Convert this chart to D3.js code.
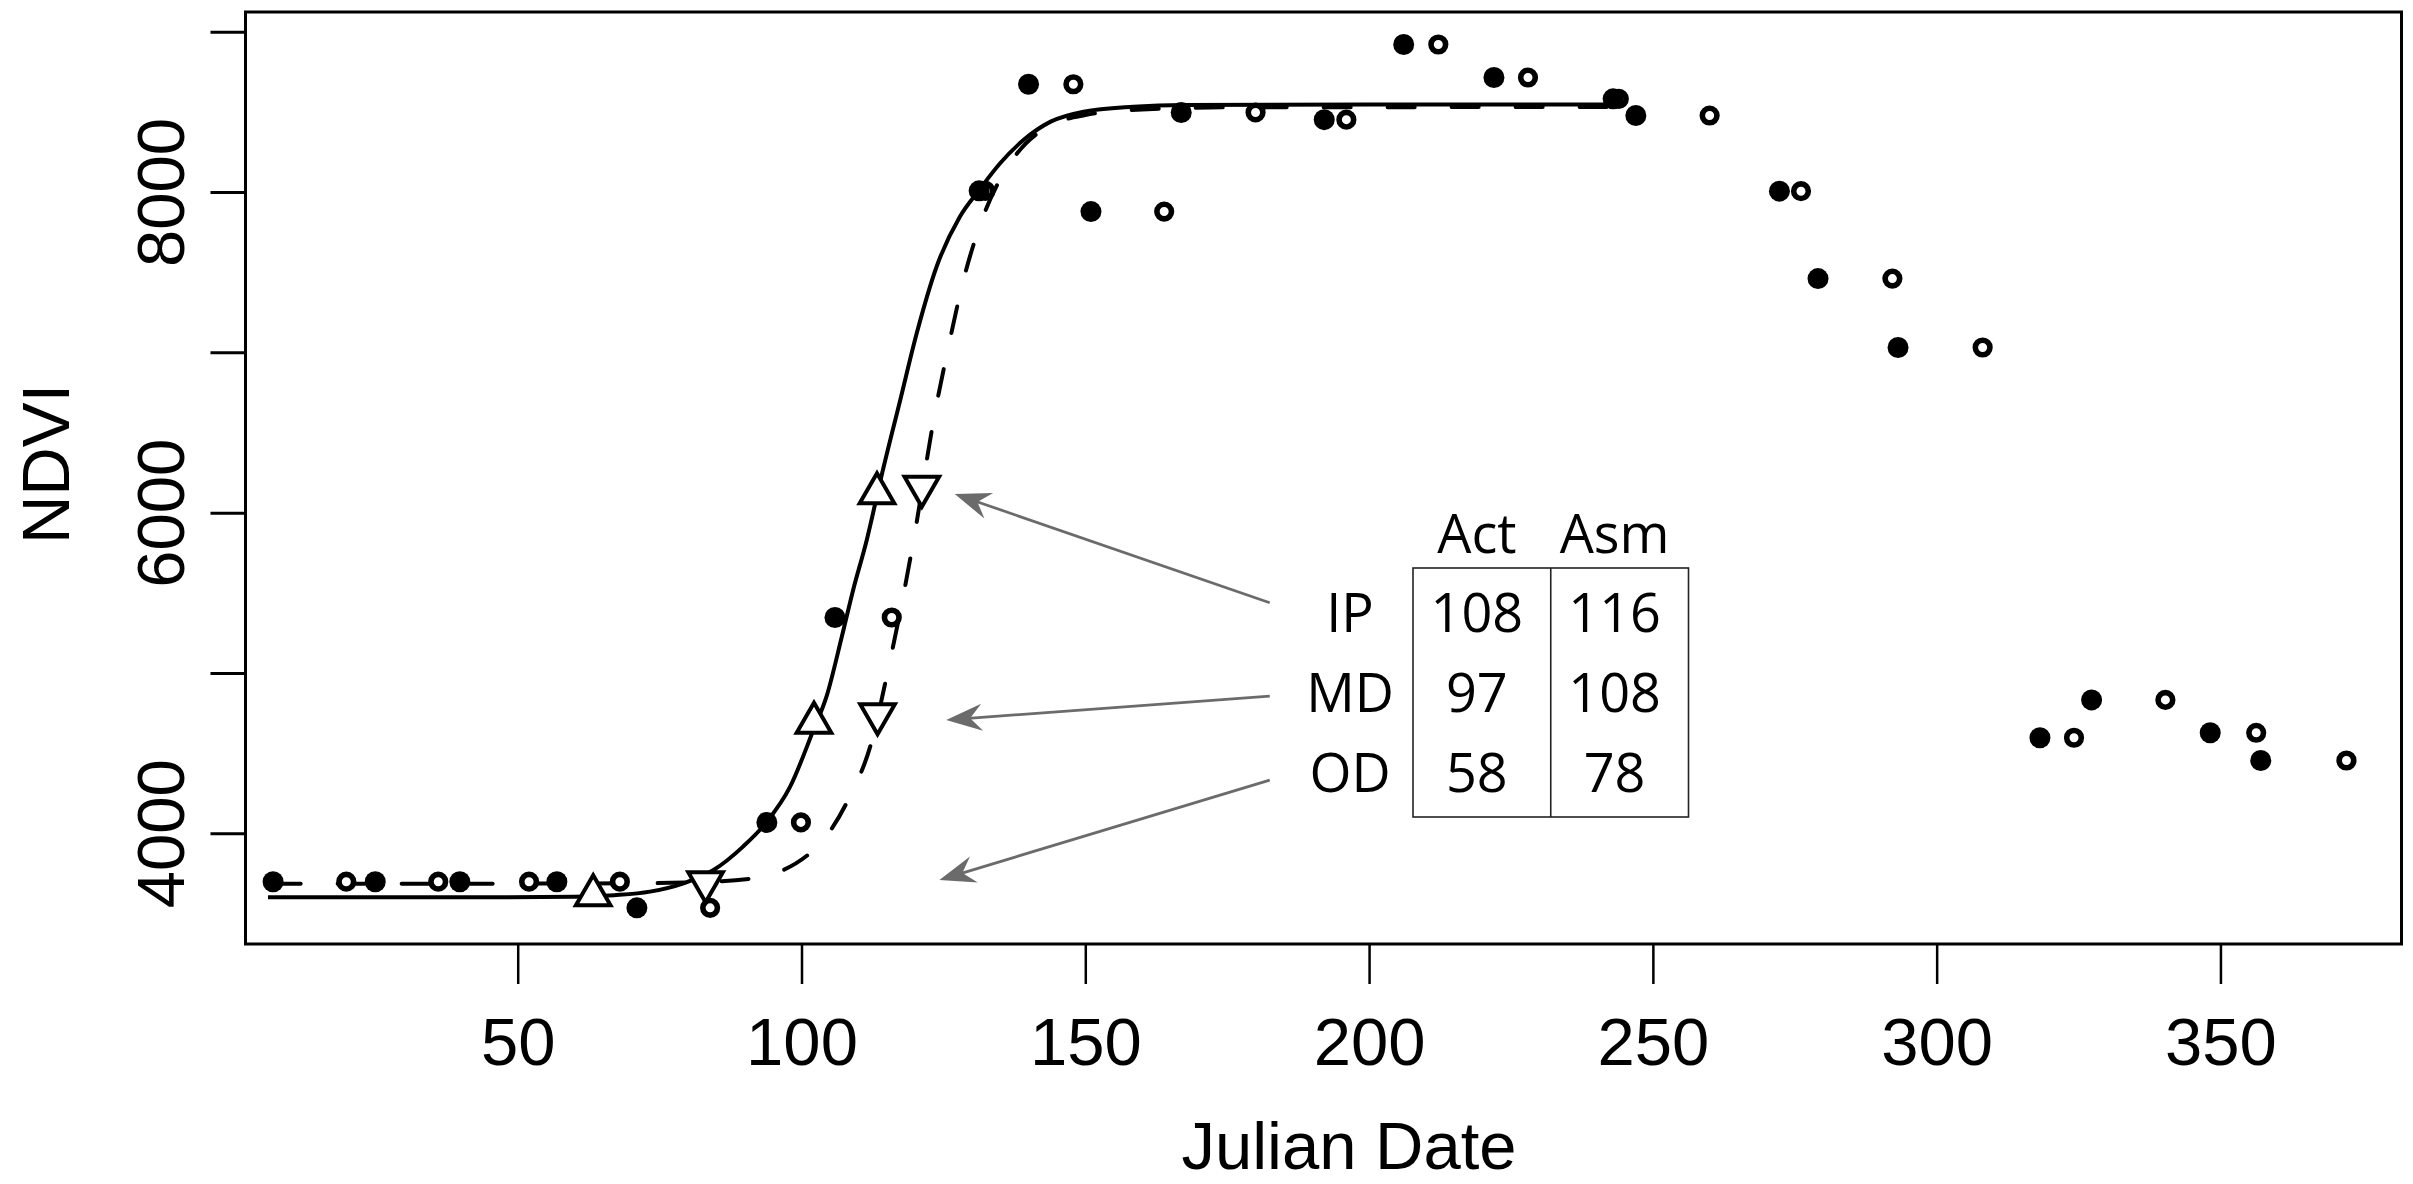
<!DOCTYPE html>
<html>
<head>
<meta charset="utf-8">
<script src="https://cdn.jsdelivr.net/npm/d3@7"></script>
<style>
  body { margin: 0; background: #fff; }
  svg text { font-family: "Liberation Sans", Arial, sans-serif; }
  .tbl text { font-family: "Open Sans", "Noto Sans", sans-serif; }
</style>
</head>
<body>
<div id="chart"></div>
<script>
// observed NDVI composites: same value, plotted at actual (filled) and assimilated (open) dates
const ndvi   = [3698, 3698, 3698, 3698, 3535, 4068, 5346, 8007, 8672, 7878, 8496, 8451, 8920, 8714, 8581, 8477, 8005, 7460, 7030, 4596, 4832, 4627, 4454];
const actDay = [6.9, 24.9, 39.8, 56.9, 71.0, 93.9, 105.9, 131.3, 140.0, 151.0, 166.9, 192.1, 206.1, 222.0, 243.0, 247.0, 272.3, 279.1, 293.2, 318.2, 327.3, 348.2, 357.1];
const asmDay = [19.8, 36.0, 52.0, 68.0, 83.9, 99.9, 115.9, 132.4, 147.9, 163.9, 180.0, 196.0, 212.2, 228.0, 244.0, 260.0, 276.1, 292.2, 308.1, 324.2, 340.3, 356.3, 372.2];

// fitted curves
const actFit = [[6,3601],[40,3601],[60,3604],[67,3614],[73.3,3636],[79.2,3688],[84.5,3771],[89.7,3917],[93.9,4072],[98.0,4291],[102.1,4644],[104.4,4852],[107.1,5226],[109.1,5518],[111.5,5830],[114.1,6230],[117.4,6703],[120.3,7119],[123.8,7534],[127.9,7846],[131.3,8012],[135.0,8179],[139.1,8324],[143.9,8439],[149.7,8501],[158.5,8532],[167.3,8543],[200,8545],[242.5,8545]];
const asmFit = [[7,3686],[40,3686],[70,3688],[80,3693],[90.8,3716],[101.5,3876],[108.2,4208],[112.4,4577],[115.15,5003],[117.65,5429],[119.7,5819],[123.55,6630],[125.9,7036],[128.5,7446],[131.95,7841],[137.35,8210],[143,8400],[150,8480],[160,8515],[175,8528],[242.5,8530]];

// OD, MD, IP markers on each curve
const actMarkDay  = [63.3, 102.2, 113.3];
const actMarkNdvi = [3613, 4689, 6121];
const asmMarkDay  = [83.1, 113.4, 121.2];
const asmMarkNdvi = [3694, 4742, 6162];

// table
const tableCols = ["Act", "Asm"];
const tableRows = ["IP", "MD", "OD"];
const actTable = [108, 97, 58];
const asmTable = [116, 108, 78];

// arrows (start near the row label, tip at the curves), in data units
const arrowFrom = [[182.5, 5438], [182.5, 4856], [182.5, 4332]];
const arrowTo   = [[127.0, 6116], [125.5, 4707], [124.3, 3709]];

const xTicks = [50, 100, 150, 200, 250, 300, 350];
const yTicks = [4000, 5000, 6000, 7000, 8000, 9000];
const yLabels = [4000, 6000, 8000];

const W = 2413, H = 1184;
const margin = {top: 12, right: 11.5, bottom: 240, left: 245.5},
      width = W - margin.left - margin.right,
      height = H - margin.top - margin.bottom;

const svgRoot = d3.select("#chart").append("svg")
    .attr("width", W).attr("height", H);
const svg = svgRoot.append("g")
    .attr("transform", `translate(${margin.left},${margin.top})`);

const x = d3.scaleLinear().domain([2.04, 381.9]).range([0, width]);
const y = d3.scaleLinear().domain([3309.5, 9122.7]).range([height, 0]);

// x axis
const xAxis = svg.append("g")
    .attr("transform", `translate(0,${height})`)
    .call(d3.axisBottom(x).tickValues(xTicks).tickSize(40).tickSizeOuter(0).tickPadding(33));
xAxis.select(".domain").remove();
xAxis.selectAll("line").attr("stroke-width", 2.5);
xAxis.selectAll("text").attr("font-size", 67).attr("font-family", "Liberation Sans, Arial, sans-serif");

// y axis
const yAxis = svg.append("g")
    .call(d3.axisLeft(y).tickValues(yTicks).tickSize(35).tickSizeOuter(0)
        .tickFormat(d => yLabels.includes(d) ? d3.format("d")(d) : ""));
yAxis.select(".domain").remove();
yAxis.selectAll("line").attr("stroke-width", 3);
yAxis.selectAll("text")
    .attr("font-size", 67)
    .attr("font-family", "Liberation Sans, Arial, sans-serif")
    .attr("text-anchor", "middle")
    .attr("x", 0).attr("y", 0).attr("dy", 0)
    .attr("transform", "translate(-61.5,0) rotate(-90)");

// frame
svg.append("rect")
    .attr("x", 0).attr("y", 0)
    .attr("width", width).attr("height", height)
    .attr("fill", "none").attr("stroke", "#000").attr("stroke-width", 3);

// axis titles
svgRoot.append("text")
    .attr("x", 1349).attr("y", 1169)
    .attr("text-anchor", "middle")
    .attr("font-size", 67)
    .text("Julian Date");
svgRoot.append("text")
    .attr("transform", "translate(69,464) rotate(-90)")
    .attr("text-anchor", "middle")
    .attr("font-size", 67)
    .text("NDVI");

// curves
const line = d3.line().x(d => x(d[0])).y(d => y(d[1])).curve(d3.curveMonotoneX);
svg.append("path").datum(actFit)
    .attr("fill", "none").attr("stroke", "#000").attr("stroke-width", 4)
    .attr("d", line);
svg.append("path").datum(asmFit)
    .attr("fill", "none").attr("stroke", "#000").attr("stroke-width", 4)
    .attr("stroke-dasharray", "27,37").attr("stroke-linecap", "round")
    .attr("d", line);

// open circles first, filled on top
svg.append("g").selectAll("circle")
    .data(ndvi.map((v, i) => [asmDay[i], v]))
    .join("circle")
    .attr("cx", d => x(d[0])).attr("cy", d => y(d[1]))
    .attr("r", 7.3)
    .attr("fill", "#fff").attr("stroke", "#000").attr("stroke-width", 5.6);
svg.append("g").selectAll("circle")
    .data(ndvi.map((v, i) => [actDay[i], v]))
    .join("circle")
    .attr("cx", d => x(d[0])).attr("cy", d => y(d[1]))
    .attr("r", 10.5)
    .attr("fill", "#000");

// triangles
const tri = dir => `M0,${-20*dir}L17.3,${10*dir}L-17.3,${10*dir}Z`;
svg.append("g").selectAll("path")
    .data(actMarkDay.map((d, i) => [d, actMarkNdvi[i]]))
    .join("path")
    .attr("transform", d => `translate(${x(d[0])},${y(d[1])})`)
    .attr("d", tri(1))
    .attr("fill", "#fff").attr("stroke", "#000").attr("stroke-width", 4)
    .attr("stroke-linejoin", "miter");
svg.append("g").selectAll("path")
    .data(asmMarkDay.map((d, i) => [d, asmMarkNdvi[i]]))
    .join("path")
    .attr("transform", d => `translate(${x(d[0])},${y(d[1])})`)
    .attr("d", tri(-1))
    .attr("fill", "#fff").attr("stroke", "#000").attr("stroke-width", 4)
    .attr("stroke-linejoin", "miter");

// arrows
const arrowColor = "#6b6b6b";
const arrows = svg.append("g");
arrowFrom.forEach((f, i) => {
    const x0 = x(f[0]), y0 = y(f[1]);
    const x1 = x(arrowTo[i][0]), y1 = y(arrowTo[i][1]);
    const ang = Math.atan2(y1 - y0, x1 - x0);
    const len = Math.hypot(x1 - x0, y1 - y0);
    const g = arrows.append("g")
        .attr("transform", `translate(${x1},${y1}) rotate(${ang * 180 / Math.PI})`);
    g.append("line")
        .attr("x1", -len).attr("y1", 0).attr("x2", -22).attr("y2", 0)
        .attr("stroke", arrowColor).attr("stroke-width", 2.8);
    g.append("path")
        .attr("d", "M0,0L-36,-13.5L-24,0L-36,13.5Z")
        .attr("fill", arrowColor);
});

// table
const colX = d3.scaleBand().domain(tableCols).range([1413, 1688.5]);
const rowY = d3.scalePoint().domain(tableRows).range([632, 792]);
const tbl = svgRoot.append("g").attr("class", "tbl");
tbl.append("rect")
    .attr("x", colX.range()[0]).attr("y", 568)
    .attr("width", colX.range()[1] - colX.range()[0]).attr("height", 249)
    .attr("fill", "none").attr("stroke", "#222").attr("stroke-width", 1.6);
tbl.append("line")
    .attr("x1", colX("Asm")).attr("x2", colX("Asm"))
    .attr("y1", 568).attr("y2", 817)
    .attr("stroke", "#222").attr("stroke-width", 1.6);
tbl.selectAll("text.hdr")
    .data(tableCols).join("text")
    .attr("class", "hdr")
    .attr("x", d => colX(d) + colX.bandwidth() / 2 - 5)
    .attr("y", 553)
    .attr("text-anchor", "middle").attr("font-size", 54)
    .text(d => d);
tbl.selectAll("text.rowlab")
    .data(tableRows).join("text")
    .attr("class", "rowlab")
    .attr("x", 1350)
    .attr("y", d => rowY(d))
    .attr("text-anchor", "middle").attr("font-size", 54)
    .text(d => d);
[actTable, asmTable].forEach((vals, c) => {
    tbl.selectAll(`text.c${c}`)
        .data(vals).join("text")
        .attr("class", `c${c}`)
        .attr("x", colX(tableCols[c]) + colX.bandwidth() / 2 - 5)
        .attr("y", (d, i) => rowY(tableRows[i]))
        .attr("text-anchor", "middle").attr("font-size", 54)
        .text(d => d);
});
</script>
</body>
</html>
